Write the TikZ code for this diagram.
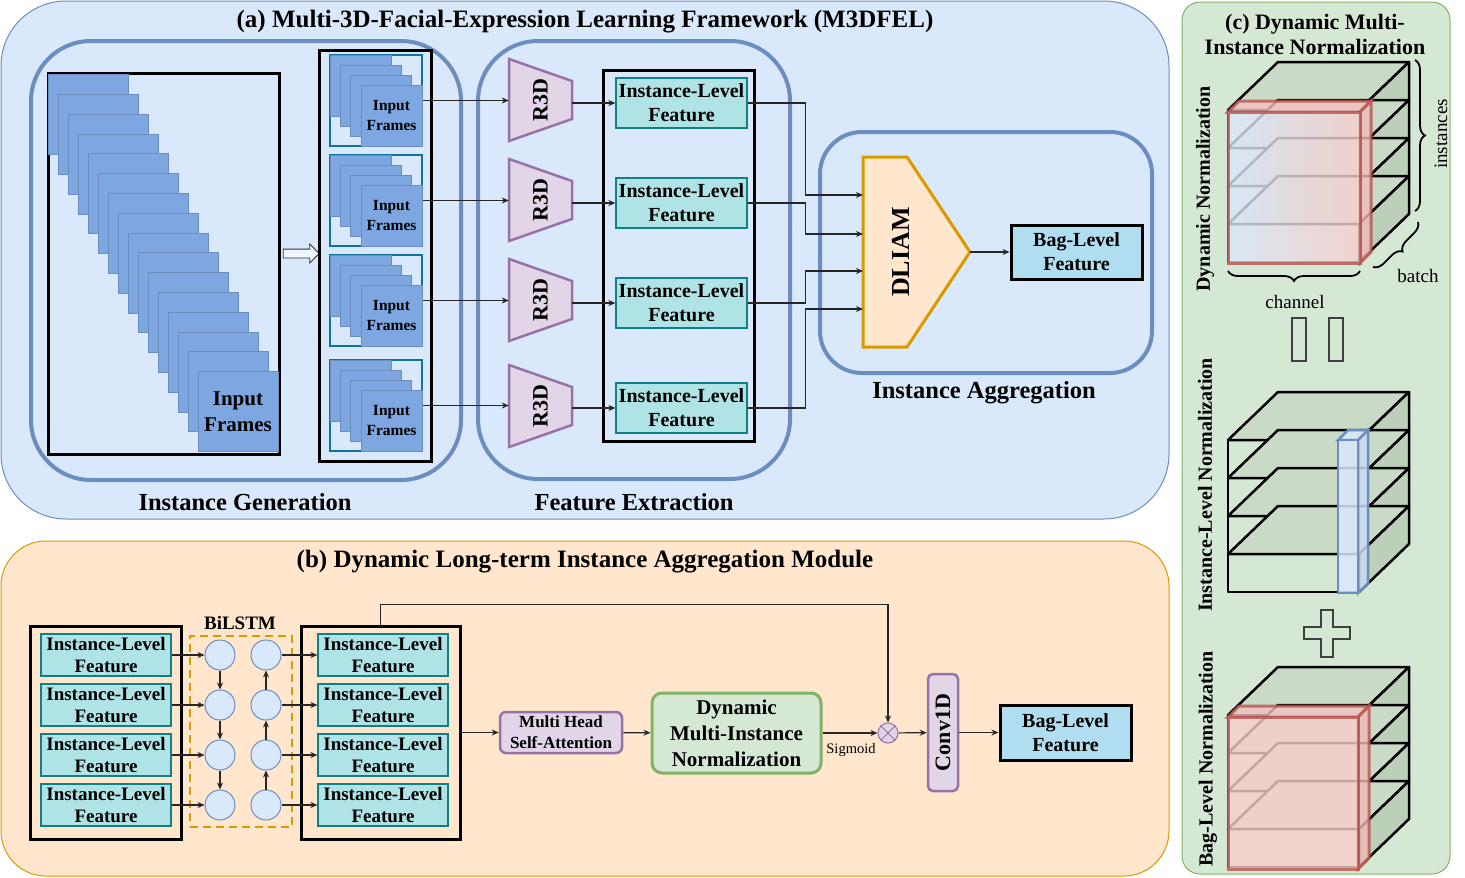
\documentclass[tikz,border=0pt]{standalone}
\usepackage{fontspec}
\setmainfont{Liberation Serif}
\usepackage{graphicx}
\usetikzlibrary{arrows.meta,calc,shapes.arrows,decorations.pathreplacing}
\definecolor{bluefill}{HTML}{DAE8FC}
\definecolor{blueedge}{HTML}{6C8EBF}
\definecolor{framefill}{HTML}{7EA6E0}
\definecolor{tealedge}{HTML}{10739E}
\definecolor{featfill}{HTML}{B0E3E6}
\definecolor{featedge}{HTML}{0E8088}
\definecolor{purpfill}{HTML}{E1D5E7}
\definecolor{purpedge}{HTML}{9673A6}
\definecolor{orfill}{HTML}{FFE6CC}
\definecolor{oredge}{HTML}{D79B00}
\definecolor{grfill}{HTML}{D5E8D4}
\definecolor{gredge}{HTML}{82B366}
\definecolor{bagfill}{HTML}{B1DDF0}
\definecolor{redfill}{HTML}{F8CECC}
\definecolor{rededge}{HTML}{B85450}
\definecolor{topface}{HTML}{C9DAC6}
\definecolor{sideface}{HTML}{BCCFB9}
\newcommand{\fsize}[2]{\fontsize{#1}{#2}\selectfont}

\begin{document}
\begin{tikzpicture}[x=1pt,y=-1pt,>={Stealth[length=7pt,width=6pt]}]
        \tikzstyle{panel}=[line width=1pt]
        \tikzstyle{grp}=[draw=blueedge,line width=4pt,rounded corners=60pt]
        \tikzstyle{blk}=[draw=black,line width=3pt,inner sep=0pt]
        \tikzstyle{frm}=[draw=blueedge,fill=framefill,line width=0.8pt,inner sep=0pt]
        \tikzstyle{feat}=[draw=featedge,fill=featfill,line width=1.2pt,minimum width=131pt,minimum height=50pt,inner sep=0pt,align=center,font=\bfseries\fsize{20}{24}]
        \tikzstyle{bag}=[draw=black,fill=bagfill,line width=3pt,minimum width=131pt,minimum height=54pt,inner sep=0pt,align=center,font=\bfseries\fsize{20}{24}]
        \tikzstyle{lbl}=[font=\bfseries\fsize{24.5}{29}]
        \tikzstyle{ttl}=[font=\bfseries\fsize{25}{30}]
        \tikzstyle{link}=[->,line width=1.2pt,draw=black!85]
        \tikzstyle{r3d}=[inner sep=0pt,minimum width=63pt,minimum height=82pt,font=\bfseries\fsize{22}{26}]
        \tikzstyle{r3dshape}=[draw=purpedge,fill=purpfill,line width=2.5pt]
        \tikzstyle{cell}=[circle,draw=blueedge,fill=bluefill,line width=1pt,minimum size=30pt,inner sep=0pt]
        \tikzstyle{purp}=[draw=purpedge,fill=purpfill,line width=2.5pt,rounded corners=6pt,align=center]
        \tikzstyle{slab}=[draw=black,line width=2.5pt,line join=round]
        \tikzstyle{rot}=[rotate=90,font=\bfseries\fsize{20}{24}]
        \tikzstyle{note}=[font=\fsize{19}{22}]
        \tikzstyle{brc}=[decorate,decoration={brace,amplitude=10pt},line width=1.8pt]
        \tikzstyle{redbox}=[draw=rededge,line width=3pt,draw opacity=0.8,fill opacity=0.8]
        \tikzstyle{sym}=[draw=black!75,line width=2.5pt]
        \useasboundingbox (0,0) rectangle (1465,878);

        % (a)
        \draw[panel,draw=blueedge,fill=bluefill,rounded corners=65pt] (1,1) rectangle (1169,519);
        \node[ttl] (ta) at (585,22) {(a) Multi-3D-Facial-Expression Learning Framework (M3DFEL)};
        \draw[grp] (31,41) rectangle (461,480);
        \draw[grp] (478,41) rectangle (790,479);
        \draw[grp,rounded corners=42pt] (820,132) rectangle (1152,373);
        \node[lbl] (lg) at (245,502) {Instance Generation};
        \node[lbl] (lf) at (634,502) {Feature Extraction};
        \node[lbl] (la) at (984,393) {Instance Aggregation};

        \node[blk,minimum width=231pt,minimum height=381pt] (seq) at (163.5,263.5) {};
        \foreach \i in {0,...,14}
          \draw[frm] ({48+10*\i},{74.5+19.8*\i}) rectangle ++(80,80);
        \node[frm,minimum size=80pt,align=center,font=\bfseries\fsize{21}{26}] (inp) at (238,411.5) {Input\\Frames};

        \node[single arrow,draw=black!80,fill=white!60!bluefill,line width=0.8pt,minimum height=36pt,minimum width=0pt,inner sep=4pt,single arrow head extend=5pt] (harr) at (299,253.5) {};

        \node[blk,minimum width=112pt,minimum height=411pt] (inst) at (375,255.5) {};
        \foreach \g/\y in {1/55,2/155,3/255,4/360} {
          \node[draw=tealedge,line width=2pt,minimum width=92pt,minimum height=91pt,inner sep=0pt] (g\g) at (376,\y+45.5) {};
          \foreach \k in {0,1,2}
            \draw[frm] ({330+10*\k},{\y+10*\k}) rectangle ++(61,61);
          \node[frm,minimum size=61pt,align=center,font=\bfseries\fsize{15.5}{20}] (p\g) at (391.5,\y+60.5) {Input\\Frames};
        }

        \foreach \i/\y in {1/100,2/200,3/300,4/406} {
          \draw[r3dshape] (509,\y-41) -- (572,\y-19) -- (572,\y+19) -- (509,\y+41) -- cycle;
          \node[r3d] (r\i) at (540.5,\y) {\rotatebox{90}{R3D}};
          \draw[link] (g\i.east) -- (g\i.east -| r\i.west);
        }

        \node[blk,minimum width=151pt,minimum height=371pt] (fx) at (678.5,255.5) {};
        \foreach \i/\y in {1/103,2/203,3/303,4/408} {
          \node[feat] (f\i) at (681.5,\y) {Instance-Level\\Feature};
          \draw[link] (r\i.east |- f\i.west) -- (f\i.west);
        }

        \draw[draw=oredge,fill=orfill,line width=3pt] (863,157) -- (907,157) -- (970,252) -- (907,347) -- (863,347) -- cycle;
        \node[font=\bfseries\fsize{26}{30}] (dl) at (901,252) {\rotatebox{90}{DLIAM}};
        \coordinate (tip) at (970,252);
        \foreach \i/\y in {1/195,2/234,3/271,4/309} {
          \coordinate (d\i) at (863,\y);
          \draw[link] (f\i.east) -- ++(58,0) |- (d\i);
        }
        \node[bag] (bagA) at (1076.5,252) {Bag-Level\\Feature};
        \draw[link] (tip) -- (bagA.west);

        % (b)
        \draw[panel,draw=oredge,fill=orfill,rounded corners=45pt] (1,541) rectangle (1169,876);
        \node[ttl] (tb) at (585,562) {(b) Dynamic Long-term Instance Aggregation Module};
        \node[blk,minimum width=151pt,minimum height=213pt] (lb) at (105.5,732.5) {};
        \node[blk,minimum width=159pt,minimum height=213pt] (rb) at (380.5,732.5) {};
        \node[draw=oredge,dash pattern=on 8pt off 5pt,line width=2.5pt,minimum width=102pt,minimum height=191pt] (bl) at (241,731.5) {};
        \node[font=\bfseries\fsize{19}{22}] (blt) at (240,623) {BiLSTM};
        \foreach \i/\y in {1/655,2/705,3/755,4/805} {
          \node[feat,minimum width=130pt,minimum height=42pt,font=\bfseries\fsize{19}{22.5}] (b\i) at (106,\y) {Instance-Level\\Feature};
          \node[feat,minimum width=130pt,minimum height=42pt,font=\bfseries\fsize{19}{22.5}] (c\i) at (383,\y) {Instance-Level\\Feature};
          \node[cell] (u\i) at (220,\y) {};
          \node[cell] (v\i) at (266,\y) {};
          \draw[link] (b\i) -- (u\i);
          \draw[link] (v\i) -- (c\i);
        }
        \foreach \i/\j in {1/2,2/3,3/4} {
          \draw[link] (u\i) -- (u\j);
          \draw[link] (v\j) -- (v\i);
        }

        \node[purp,minimum width=122pt,minimum height=41pt,inner sep=0pt,font=\bfseries\fsize{17}{21}] (mh) at (561,732.5) {Multi Head\\Self-Attention};
        \node[draw=gredge,fill=grfill,line width=3pt,rounded corners=10pt,minimum width=169pt,minimum height=80pt,inner sep=0pt,align=center,font=\bfseries\fsize{21}{26}] (dm) at (736.5,733) {Dynamic\\Multi-Instance\\Normalization};
        \node[circle,draw=purpedge,fill=purpfill,line width=1pt,minimum size=20pt,inner sep=0pt] (mul) at (888,733) {};
        \draw[purpedge,line width=1pt] (mul.45) -- (mul.225) (mul.135) -- (mul.315);
        \node[purp,rounded corners=5pt,minimum width=30pt,minimum height=117pt,inner sep=0pt,font=\bfseries\fsize{22}{26}] (cv) at (943,732.5) {\rotatebox{90}{Conv1D}};
        \node[bag,minimum height=55pt] (bagB) at (1065.5,732.5) {Bag-Level\\Feature};
        \node[font=\fsize{14.5}{17}] (sig) at (851,750) {Sigmoid};

        \draw[link] (rb.east) -- (mh.west);
        \draw[link] (mh) -- (dm);
        \draw[link] (dm) -- (mul);
        \draw[link] (mul) -- (cv);
        \draw[link] (cv) -- (bagB);
        \draw[link] (rb.north) -- ++(0,-20) -| (mul.north);

        % (c)
        \draw[panel,draw=gredge,fill=grfill,rounded corners=18pt] (1182,2) rectangle (1450,874);
        \node[ttl,font=\bfseries\fsize{22}{25},align=center] (tc) at (1315,34) {(c) Dynamic Multi-\\Instance Normalization};
        \foreach \cy in {110,440,715} {
          \foreach \k in {0,...,3} {
            \pgfmathsetmacro{\sy}{\cy+38*\k}
            \draw[slab,fill=grfill] (1228,\sy) rectangle (1359,\sy+38);
            \draw[slab,fill=topface] (1228,\sy) -- (1278,\sy-48) -- (1409,\sy-48) -- (1359,\sy) -- cycle;
            \draw[slab,fill=sideface] (1359,\sy) -- (1409,\sy-48) -- (1409,\sy-10) -- (1359,\sy+38) -- cycle;
          }
        }
        \draw[redbox,fill=redfill!90!rededge] (1228,112) -- (1239,101) -- (1371,101) -- (1360,112) -- cycle;
        \draw[redbox,fill=redfill!85!rededge] (1360,112) -- (1371,101) -- (1371,252) -- (1360,263) -- cycle;
        \draw[redbox,left color=bluefill,right color=redfill] (1228,112) rectangle (1360,263);

        \draw[draw=blueedge,fill=bluefill,line width=2.5pt,fill opacity=0.85] (1338,440) -- (1348,430) -- (1368,430) -- (1358,440) -- cycle;
        \draw[draw=blueedge,fill=bluefill!85!blueedge,line width=2.5pt,fill opacity=0.85] (1358,440) -- (1368,430) -- (1368,583) -- (1358,593) -- cycle;
        \draw[draw=blueedge,fill=bluefill,line width=2.5pt,fill opacity=0.85] (1338,440) rectangle (1358,593);

        \draw[redbox,fill=redfill!90!rededge] (1228,717) -- (1239,706) -- (1369,706) -- (1358,717) -- cycle;
        \draw[redbox,fill=redfill!85!rededge] (1358,717) -- (1369,706) -- (1369,858) -- (1358,869) -- cycle;
        \draw[redbox,fill=redfill] (1228,717) rectangle (1358,869);

        \draw[brc] (1415,60) -- (1415,211);
        \draw[brc] (1360,271) -- (1228,271);
        \draw[brc] (1418,222) -- (1373,267);
        \node[note,rotate=90] (ins) at (1441,134) {instances};
        \node[note] (bat) at (1418,276) {batch};
        \node[note] (chn) at (1295,302) {channel};

        \node[rot] (n1) at (1205,189) {Dynamic Normalization};
        \node[rot] (n2) at (1205,485) {Instance-Level Normalization};
        \node[rot] (n3) at (1208,759) {Bag-Level Normalization};

        \draw[sym] (1292,318) rectangle (1306,361);
        \draw[sym] (1329,318) rectangle (1343,361);
        \draw[sym] (1321,610) -- (1333,610) -- (1333,627) -- (1350,627) -- (1350,639) -- (1333,639) -- (1333,657) -- (1321,657) -- (1321,639) -- (1304,639) -- (1304,627) -- (1321,627) -- cycle;
\end{tikzpicture}
\end{document}
